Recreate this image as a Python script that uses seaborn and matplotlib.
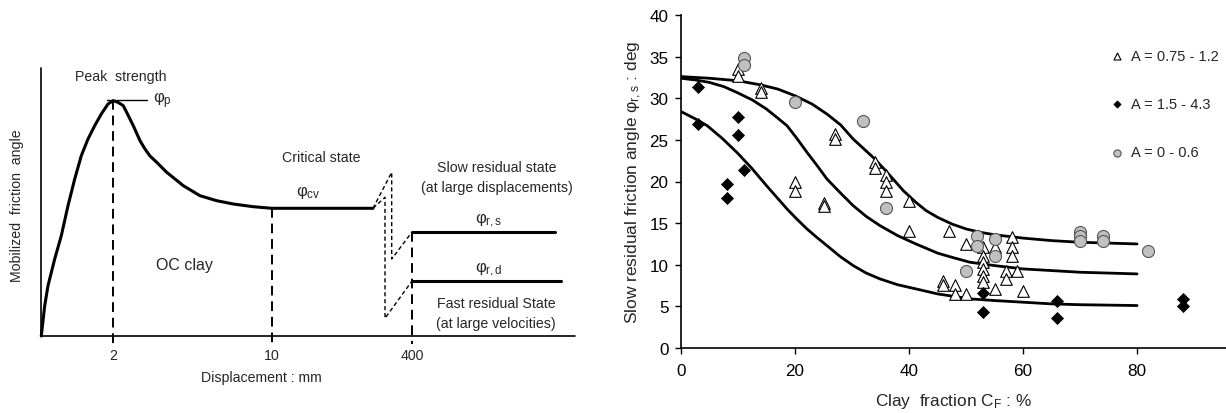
import numpy as np
import pandas as pd
import seaborn as sns
import matplotlib.pyplot as plt

sns.set_style("white")
plt.rcParams['font.family'] = ['Liberation Sans', 'DejaVu Sans']
plt.rcParams['mathtext.fontset'] = 'custom'
plt.rcParams['mathtext.rm'] = 'Liberation Sans'
plt.rcParams['mathtext.it'] = 'Liberation Sans'

# ---- right panel data (clay fraction %, slow residual friction angle deg)
tri_x = [10, 10, 14, 14, 20, 20, 25, 25, 27, 27, 34, 34, 36, 36, 36, 40, 40,
         46, 46, 47, 48, 48, 50, 50, 53, 53, 53, 53, 53, 53, 55, 55, 57, 57,
         58, 58, 58, 59, 60]
tri_y = [33.5, 32.7, 31.2, 30.7, 20.0, 18.8, 17.4, 17.0, 25.7, 25.1, 22.3, 21.6,
         20.8, 19.9, 18.8, 17.6, 14.1, 8.1, 7.6, 14.0, 7.6, 6.5, 12.5, 6.5,
         12.1, 11.1, 10.3, 9.5, 8.7, 7.9, 12.1, 7.1, 9.3, 8.3, 13.3, 12.1, 11.1,
         9.3, 6.9]
dia_x = [3, 3, 8, 8, 10, 10, 11, 53, 53, 66, 66, 88, 88]
dia_y = [31.4, 26.9, 19.7, 18.0, 27.8, 25.6, 21.4, 6.6, 4.3, 5.7, 3.6, 5.9, 5.1]
cir_x = [11, 11, 20, 32, 36, 50, 52, 52, 55, 55, 70, 70, 70, 74, 74, 82]
cir_y = [34.8, 34.0, 29.6, 27.3, 16.8, 9.2, 13.4, 12.2, 13.1, 11.1, 13.9, 13.4,
         12.8, 13.4, 12.9, 11.7]

# fitted curves
up_x = [0, 5, 10, 14, 17, 20, 23, 25.6, 28, 30.2, 33.7, 35.5, 37.2, 39, 41.2,
        43, 45, 47.5, 50, 52.5, 55, 60, 65, 70, 75, 80]
up_y = [32.6, 32.4, 32.1, 31.6, 31.1, 30.3, 29.3, 28.1, 26.8, 25.1, 22.9, 21.6,
        20.3, 18.9, 17.5, 16.5, 15.7, 14.9, 14.3, 13.9, 13.6, 13.2, 12.9, 12.7,
        12.6, 12.5]
mid_x = [0, 2.5, 5, 7.5, 9.8, 12.5, 15, 17, 18.6, 20.3, 22.1, 24, 25.6, 28,
         30.2, 32.5, 34.9, 38, 41.2, 45, 47.5, 50.7, 55, 60, 65, 70, 75, 80]
mid_y = [32.4, 32.2, 31.9, 31.4, 30.7, 29.8, 28.7, 27.6, 26.7, 25.2, 23.5, 21.8,
         20.3, 18.6, 17.1, 15.8, 14.7, 13.5, 12.5, 11.4, 10.9, 10.3, 9.9, 9.5,
         9.3, 9.1, 9.0, 8.9]
low_x = [0, 2.3, 4.6, 7.2, 9.8, 12.4, 15, 16.8, 18.6, 20.3, 22.1, 23.8, 25.6,
         27.9, 30.2, 32.5, 34.9, 38, 41.2, 45, 50.7, 55, 60, 65, 70, 75, 80]
low_y = [28.4, 27.6, 26.7, 25.2, 23.5, 21.6, 19.5, 18.1, 16.7, 15.5, 14.3, 13.3,
         12.3, 11.0, 9.9, 9.0, 8.3, 7.6, 7.1, 6.5, 5.9, 5.7, 5.5, 5.3, 5.2,
         5.15, 5.1]

# ---- left panel schematic (drawing units = pixels, y downward)
curve_x = [41.3, 44.7, 48, 54.7, 61.3, 68, 74.7, 81.3, 88, 94.7, 101.3, 108,
           113, 118, 123.3, 128, 133.3, 140, 145, 150, 156.7, 166.7, 183.3,
           200, 216.7, 233.3, 253.3, 271.7, 373]
curve_y = [337, 306.7, 286.7, 260, 236.7, 206.7, 180, 156.7, 140, 126.7, 115,
           105, 101.7, 103.3, 106.7, 116, 126.7, 141.7, 150, 157, 163.3, 173.3,
           186.7, 196.7, 201.7, 205, 207.7, 209.3, 209.3]
slow_x, slow_y = [412, 555], [233, 233]
fast_x, fast_y = [412, 561], [282, 282]
zig1_x = [373, 391.7, 391.7, 412]
zig1_y = [209.3, 173.3, 260, 233]
zig2_x = [373, 385, 385, 412]
zig2_y = [209.3, 198.3, 319.3, 282]
tick_pos = [113, 271.7, 412]
tick_lab = ['2', '10', '400']

fig = plt.figure(figsize=(12.26, 4.14), dpi=100)

# ---------- left schematic
axl = fig.add_axes([0, 0, 600 / 1226, 1])
axl.set_xlim(0, 600)
axl.set_ylim(414, 0)
axl.axis('off')
k = dict(color='black', lw=1.2)
axl.plot([41, 41], [69, 337], **k)
axl.plot([41, 575], [337, 337], **k)
sns.lineplot(x=curve_x, y=curve_y, sort=False, estimator=None, color='black',
             lw=2.2, ax=axl)
axl.plot([106.7, 146.7], [101, 101], color='black', lw=1.0)
for xp, top in zip(tick_pos, [101, 209.3, 233]):
    axl.plot([xp, xp], [top, 345], color='black', lw=1.4, ls=(0, (5, 3)))
axl.plot(zig1_x, zig1_y, color='black', lw=1.0, ls=(0, (3, 2)))
axl.plot(zig2_x, zig2_y, color='black', lw=1.0, ls=(0, (3, 2)))
axl.plot(slow_x, slow_y, color='black', lw=2.2)
axl.plot(fast_x, fast_y, color='black', lw=2.2)
fs = 10.2
for xp, lab in zip(tick_pos, tick_lab):
    axl.text(xp, 356, lab, ha='center', va='center', fontsize=fs)
axl.text(261.7, 378, 'Displacement : mm', ha='center', va='center', fontsize=fs)
axl.text(17, 206, 'Mobilized  friction  angle', rotation=90, ha='center',
         va='center', fontsize=fs)
axl.text(121, 77, 'Peak  strength', ha='center', va='center', fontsize=fs)
axl.text(153, 101, r'φ$_\mathrm{p}$', ha='left', va='center', fontsize=12)
axl.text(321.7, 158, 'Critical state', ha='center', va='center', fontsize=fs)
axl.text(308, 193, r'φ$_\mathrm{cv}$', ha='center', va='center', fontsize=12)
axl.text(184, 266, 'OC clay', ha='center', va='center', fontsize=11.5)
axl.text(497, 168, 'Slow residual state', ha='center', va='center', fontsize=fs)
axl.text(497, 188, '(at large displacements)', ha='center', va='center', fontsize=fs)
axl.text(489, 221, r'φ$_\mathrm{r,s}$', ha='center', va='center', fontsize=12)
axl.text(489, 270, r'φ$_\mathrm{r,d}$', ha='center', va='center', fontsize=12)
axl.text(496, 304, 'Fast residual State', ha='center', va='center', fontsize=fs)
axl.text(496, 324, '(at large velocities)', ha='center', va='center', fontsize=fs)

# ---------- right scatter
ax = fig.add_axes([681 / 1226, 1 - 349 / 414, 1 - 681 / 1226, 333 / 414])
for cx, cy in [(up_x, up_y), (mid_x, mid_y), (low_x, low_y)]:
    sns.lineplot(x=cx, y=cy, color='black', lw=2.0, ax=ax, sort=False,
                 estimator=None)
sns.scatterplot(x=tri_x, y=tri_y, marker='^', s=70, color='white',
                edgecolor='black', linewidth=0.8, ax=ax, zorder=3,
                label='A = 0.75 - 1.2')
sns.scatterplot(x=dia_x, y=dia_y, marker='D', s=38, color='black',
                edgecolor='black', linewidth=0.5, ax=ax, zorder=3,
                label='A = 1.5 - 4.3')
sns.scatterplot(x=cir_x, y=cir_y, marker='o', s=75, color='#c0c0c0',
                edgecolor='#555555', linewidth=0.8, ax=ax, zorder=3,
                label='A = 0 - 0.6')
ax.set_xlim(0, 95.6)
ax.set_ylim(0, 40)
ax.set_xticks([0, 20, 40, 60, 80])
ax.set_yticks(range(0, 41, 5))
for s in ['top', 'right']:
    ax.spines[s].set_visible(False)
for s in ['left', 'bottom']:
    ax.spines[s].set_color('black')
    ax.spines[s].set_linewidth(1.2)
ax.tick_params(direction='out', length=4, width=1, colors='black',
               labelsize=12.3, left=True, bottom=True)
ax.tick_params(axis='x', pad=7)
ax.tick_params(axis='y', pad=5)
ax.set_xlabel(r'Clay  fraction C$_\mathrm{F}$ : %', fontsize=12.4, labelpad=9)
ax.set_ylabel(r'Slow residual friction angle φ$_\mathrm{r,s}$ : deg',
              fontsize=12.5, labelpad=4)
leg = ax.legend(loc='upper left', bbox_to_anchor=(1105 / 1226, 1 - 44 / 414),
                bbox_transform=fig.transFigure, frameon=False, fontsize=10.5,
                labelspacing=2.35, handlelength=0.8, handletextpad=0.6,
                markerscale=0.6, borderaxespad=0)

fig.savefig('out.png', dpi=100)
